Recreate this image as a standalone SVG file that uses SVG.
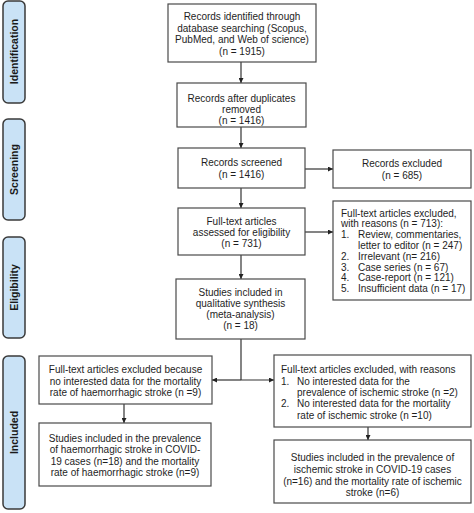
<svg xmlns="http://www.w3.org/2000/svg" width="474" height="513" viewBox="0 0 474 513">
<defs>
<style>
.box{fill:#fff;stroke:#4a4a4a;stroke-width:1.2}
.phase{fill:#c9e2f6;stroke:#3a3a3a;stroke-width:1.5}
.t{font-family:"Liberation Sans",Arial,sans-serif;font-size:10px;fill:#1e1e1e}
.c{text-anchor:middle}
.ph{font-family:"Liberation Sans",Arial,sans-serif;font-size:10.5px;font-weight:bold;fill:#1a1a1a;text-anchor:middle}
.ln{fill:none;stroke:#333;stroke-width:1.2}
</style>
<marker id="ah" viewBox="0 0 6 6" refX="6" refY="3" markerWidth="5" markerHeight="5" orient="auto" markerUnits="userSpaceOnUse">
<path d="M0,0 L6,3 L0,6 z" fill="#222"/>
</marker>
</defs>
<rect width="474" height="513" fill="#fff"/>

<g id="phase-identification"><rect class="phase" x="3" y="1" width="22" height="102" rx="5"/><text class="ph" transform="translate(18,51.5) rotate(-90)">Identification</text></g>
<g id="phase-screening"><rect class="phase" x="3" y="119" width="22" height="101" rx="5"/><text class="ph" transform="translate(18,169.5) rotate(-90)">Screening</text></g>
<g id="phase-eligibility"><rect class="phase" x="3" y="237" width="22" height="101" rx="5"/><text class="ph" transform="translate(18,287.5) rotate(-90)">Eligibility</text></g>
<g id="phase-included"><rect class="phase" x="3" y="356" width="22" height="153" rx="5"/><text class="ph" transform="translate(18,432.5) rotate(-90)">Included</text></g>

<g id="connectors">
<line class="ln" x1="241" y1="62" x2="241" y2="83" marker-end="url(#ah)"/>
<line class="ln" x1="241" y1="127" x2="241" y2="148" marker-end="url(#ah)"/>
<line class="ln" x1="305" y1="169" x2="333" y2="169" marker-end="url(#ah)"/>
<line class="ln" x1="241" y1="188" x2="241" y2="208" marker-end="url(#ah)"/>
<line class="ln" x1="305" y1="232" x2="333" y2="232" marker-end="url(#ah)"/>
<line class="ln" x1="241" y1="255" x2="241" y2="279" marker-end="url(#ah)"/>
<line class="ln" x1="241" y1="339" x2="241" y2="380"/>
<line class="ln" x1="241" y1="380" x2="212" y2="380" marker-end="url(#ah)"/>
<line class="ln" x1="241" y1="380" x2="274" y2="380" marker-end="url(#ah)"/>
<line class="ln" x1="124" y1="404" x2="124" y2="423" marker-end="url(#ah)"/>
<line class="ln" x1="368" y1="427" x2="368" y2="440" marker-end="url(#ah)"/>
</g>

<g id="n-identified"><rect class="box" x="168" y="4" width="148" height="58"/>
<text class="t c" x="242" y="20">Records identified through</text>
<text class="t c" x="242" y="31.7">database searching (Scopus,</text>
<text class="t c" x="242" y="43.4">PubMed, and Web of science)</text>
<text class="t c" x="242" y="55">(n = 1915)</text></g>

<g id="n-dedup"><rect class="box" x="177" y="83" width="129" height="44"/>
<text class="t c" x="241.5" y="102">Records after duplicates</text>
<text class="t c" x="241.5" y="113">removed</text>
<text class="t c" x="241.5" y="124">(n = 1416)</text></g>

<g id="n-screened"><rect class="box" x="178" y="148" width="127" height="40"/>
<text class="t c" x="241.5" y="166">Records screened</text>
<text class="t c" x="241.5" y="177.5">(n = 1416)</text></g>

<g id="n-excluded"><rect class="box" x="333" y="150" width="138" height="38"/>
<text class="t c" x="402" y="167">Records excluded</text>
<text class="t c" x="402" y="178.5">(n = 685)</text></g>

<g id="n-fulltext"><rect class="box" x="178" y="208" width="127" height="47"/>
<text class="t c" x="241.5" y="224.5">Full-text articles</text>
<text class="t c" x="241.5" y="235.5">assessed for eligibility</text>
<text class="t c" x="241.5" y="246.5">(n = 731)</text></g>

<g id="n-ft-excluded"><rect class="box" x="333" y="201" width="138" height="99"/>
<text class="t" x="341" y="216.5">Full-text articles excluded,</text>
<text class="t" x="341" y="227.3">with reasons (n = 713):</text>
<text class="t" x="341" y="238.1">1.</text><text class="t" x="358" y="238.1">Review, commentaries,</text>
<text class="t" x="358" y="248.9">letter to editor (n = 247)</text>
<text class="t" x="341" y="259.7">2.</text><text class="t" x="358" y="259.7">Irrelevant (n= 216)</text>
<text class="t" x="341" y="270.5">3.</text><text class="t" x="358" y="270.5">Case series (n = 67)</text>
<text class="t" x="341" y="281.3">4.</text><text class="t" x="358" y="281.3">Case-report (n = 121)</text>
<text class="t" x="341" y="292.1">5.</text><text class="t" x="358" y="292.1">Insufficient data (n = 17)</text></g>

<g id="n-qualitative"><rect class="box" x="176" y="279" width="129" height="60"/>
<text class="t c" x="240.5" y="296">Studies included in</text>
<text class="t c" x="240.5" y="307">qualitative synthesis</text>
<text class="t c" x="240.5" y="318">(meta-analysis)</text>
<text class="t c" x="240.5" y="329">(n = 18)</text></g>

<g id="n-haem-excluded"><rect class="box" x="39" y="356" width="173" height="48"/>
<text class="t c" x="125.5" y="373">Full-text articles excluded because</text>
<text class="t c" x="125.5" y="384.5">no interested data for the mortality</text>
<text class="t c" x="125.5" y="396">rate of haemorrhagic stroke (n =9)</text></g>

<g id="n-haem-included"><rect class="box" x="39" y="423" width="172" height="63"/>
<text class="t c" x="125" y="442">Studies included in the prevalence</text>
<text class="t c" x="125" y="453">of haemorrhagic stroke in COVID-</text>
<text class="t c" x="125" y="464.5">19 cases (n=18) and the mortality</text>
<text class="t c" x="125" y="475.5">rate of haemorrhagic stroke (n=9)</text></g>

<g id="n-isch-excluded"><rect class="box" x="274" y="355" width="197" height="72"/>
<text class="t" x="281" y="373">Full-text articles excluded, with reasons</text>
<text class="t" x="281" y="384.5">1.</text><text class="t" x="297" y="384.5">No interested data for the</text>
<text class="t" x="297" y="396">prevalence of ischemic stroke (n =2)</text>
<text class="t" x="281" y="407">2.</text><text class="t" x="297" y="407">No interested data for the mortality</text>
<text class="t" x="297" y="418.5">rate of ischemic stroke (n =10)</text></g>

<g id="n-isch-included"><rect class="box" x="274" y="440" width="197" height="63"/>
<text class="t c" x="372.5" y="460.5">Studies included in the prevalence of</text>
<text class="t c" x="372.5" y="472.5">ischemic stroke in COVID-19 cases</text>
<text class="t c" x="372.5" y="484.5">(n=16) and the mortality rate of ischemic</text>
<text class="t c" x="372.5" y="496">stroke (n=6)</text></g>
</svg>
